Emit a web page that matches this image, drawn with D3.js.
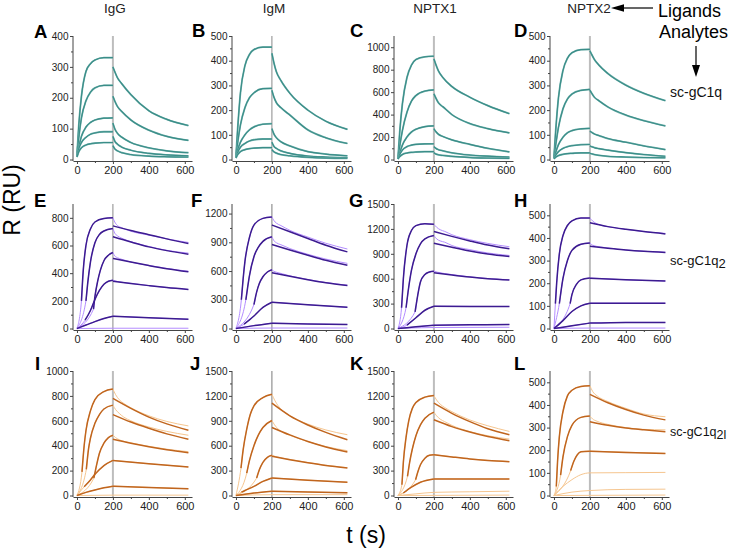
<!DOCTYPE html>
<html><head><meta charset="utf-8">
<script src="https://cdn.jsdelivr.net/npm/d3@7"></script>
<style>body{margin:0;background:#fff}text{font-family:"Liberation Sans",Arial,sans-serif}</style>
</head><body><svg id="c" width="729" height="550"></svg>
<script>
// ---------- DATA ----------
const ligands = ["IgG","IgM","NPTX1","NPTX2"];
const analytes = ["sc-gC1q","sc-gC1q2","sc-gC1q2l"];
const panelLetters = ["A","B","C","D","E","F","G","H","I","J","K","L"];
const xTicks = [0,200,400,600];
const yTicks400 = [0,100,200,300,400];
const yTicks500 = [0,100,200,300,400,500];
const yTicks800 = [0,200,400,600,800];
const yTicks1000 = [0,200,400,600,800,1000];
const yTicks1200 = [0,300,600,900,1200];
const yTicks1500 = [0,300,600,900,1200,1500];
const yMax = [400,500,1100,500, 900,1300,1500,550, 1000,1500,1500,550];

// Row 1 (sc-gC1q): sampled times
const tAssoc = [0,10,25,50,75,100,150,200];
const tDiss = [200,210,225,250,300,400,500,620];
const A_assoc = [[15,110,205,285,310,322,330,330],[12,70,135,190,218,232,240,240],[10,40,75,105,120,128,134,135],[10,35,55,72,82,86,90,90],[8,25,38,47,51,53,55,55]];
const A_diss = [[300,285,265,245,210,158,130,110],[205,190,172,155,128,95,75,62],[118,100,85,72,55,38,28,22],[75,60,50,40,30,20,15,12],[45,35,28,22,16,11,9,8]];
const B_assoc = [[15,130,270,380,425,445,455,455],[12,70,140,210,250,270,287,288],[10,40,70,100,120,132,143,145],[8,30,50,65,75,80,83,83],[6,20,32,40,44,46,48,48]];
const B_diss = [[430,395,355,320,268,200,155,122],[280,255,230,210,180,120,88,65],[125,105,88,72,55,32,22,15],[70,55,45,35,25,14,10,8],[40,32,26,20,15,9,6,5]];
const C_assoc = [[10,250,500,730,840,890,915,920],[10,120,260,420,520,570,610,620],[8,60,130,200,245,270,293,300],[5,45,85,115,128,135,139,140],[5,25,45,58,64,67,70,70]];
const C_diss = [[896,850,790,730,650,555,480,408],[585,550,505,470,400,320,275,237],[275,250,225,205,175,135,100,68],[115,100,88,78,60,40,30,22],[60,50,42,36,28,18,13,10]];
const D_assoc = [[10,120,250,360,410,432,445,446],[8,60,130,205,245,265,280,284],[5,30,60,90,108,117,124,126],[5,18,32,45,52,56,60,61],[3,10,16,21,24,25,27,27]];
const D_diss = [[440,425,405,382,348,301,268,238],[281,268,252,238,213,180,157,136],[115,110,103,97,85,70,55,40],[55,52,48,44,38,28,20,13],[25,23,20,17,13,10,8,7]];

// Rows 2 & 3: fitted curves (dark) and raw data (light), [t, R]
const E_fitA = [[[25,200],[35,420],[50,600],[75,720],[100,770],[150,795],[200,800]],[[50,200],[60,330],[75,480],[100,620],[125,680],[150,705],[200,723]],[[92,140],[100,230],[115,340],[130,420],[150,490],[175,530],[200,549]],[[45,60],[75,130],[100,210],[125,275],[150,320],[175,342],[200,349]],[[0,0],[50,25],[100,50],[150,72],[200,89]]];
const E_fitD = [[[200,742],[300,708],[400,678],[500,648],[620,615]],[[200,663],[300,625],[400,590],[500,563],[620,537]],[[200,506],[300,480],[400,455],[500,432],[620,410]],[[200,342],[300,325],[400,310],[500,296],[620,282]],[[200,89],[400,78],[620,67]]];
const E_rawD = [[[200,800],[210,770],[225,745],[250,728],[300,703],[400,675],[500,648],[620,622]],[[200,723],[210,690],[225,670],[250,652],[300,628],[400,593],[500,565],[620,545]],[[200,549],[210,525],[225,512],[250,500],[300,480],[400,456],[500,434],[620,414]],[[200,349],[225,340],[300,326],[400,310],[500,296],[620,282]],[[200,89],[400,78],[620,67]]];
const E_light = [[[0,0],[200,2],[620,2]]];

const F_fitA = [[[30,300],[40,520],[50,700],[75,950],[100,1080],[150,1150],[200,1165]],[[55,300],[65,430],[75,550],[100,750],[125,850],[150,910],[200,958]],[[100,250],[115,380],[130,470],[150,540],[175,590],[200,614]],[[45,45],[75,90],[100,130],[150,220],[200,274]],[[0,0],[100,30],[200,56]]];
const F_fitD = [[[200,1080],[300,1010],[400,940],[500,870],[620,800]],[[200,877],[300,820],[400,765],[500,712],[620,660]],[[200,582],[300,545],[400,510],[500,478],[620,449]],[[200,274],[400,248],[620,221]],[[200,56],[400,48],[620,42]]];
const F_rawD = [[[200,1165],[210,1130],[225,1100],[250,1075],[300,1025],[400,955],[500,890],[620,830]],[[200,958],[210,920],[225,895],[250,875],[300,835],[400,775],[500,725],[620,680]],[[200,614],[210,598],[225,588],[250,575],[300,550],[400,512],[500,480],[620,452]],[[200,274],[400,248],[620,221]],[[200,56],[400,48],[620,42]]];
const F_light = [[[0,0],[200,5],[620,5]]];

const G_fitA = [[[20,250],[30,600],[50,1000],[75,1180],[100,1240],[150,1262],[200,1255]],[[45,250],[60,500],[75,700],[100,900],[125,1020],[150,1080],[200,1120]],[[95,200],[110,400],[125,560],[150,650],[175,680],[200,690]],[[50,40],[100,130],[150,220],[200,268]],[[0,0],[100,20],[200,40]]];
const G_fitD = [[[200,1169],[300,1110],[400,1055],[500,1005],[620,960]],[[200,1028],[300,980],[400,935],[500,898],[620,867]],[[200,673],[300,645],[400,620],[500,600],[620,585]],[[200,268],[400,266],[620,265]],[[200,40],[400,45],[620,48]]];
const G_rawD = [[[200,1255],[215,1220],[235,1190],[260,1170],[300,1130],[400,1070],[500,1025],[620,985]],[[200,1120],[215,1080],[235,1055],[260,1040],[300,1000],[400,950],[500,910],[620,880]],[[200,690],[220,678],[300,650],[400,622],[500,602],[620,588]],[[200,268],[620,265]],[[200,40],[620,48]]];
const G_light = [[[0,0],[200,12],[620,15]]];

const H_fitA = [[[8,110],[15,200],[30,330],[50,410],[75,455],[100,475],[150,488],[200,488]],[[30,110],[50,220],[75,300],[100,345],[150,372],[200,378]],[[90,110],[100,150],[125,195],[150,215],[200,223]],[[0,0],[50,35],[100,75],[150,100],[200,112]],[[0,0],[100,12],[200,24]]];
const H_fitD = [[[200,467],[300,450],[400,438],[500,428],[620,418]],[[200,363],[300,355],[400,347],[500,341],[620,336]],[[200,222],[400,215],[620,210]],[[200,112],[620,112]],[[200,24],[400,27],[620,27]]];
const H_rawD = [[[200,488],[215,475],[240,462],[300,450],[400,438],[500,428],[620,420]],[[200,378],[215,368],[300,356],[400,347],[500,341],[620,337]],[[200,223],[400,215],[620,210]],[[200,112],[620,112]],[[200,24],[400,27],[620,27]]];
const H_light = [[[0,0],[200,2],[620,2]]];

const I_fitA = [[[28,190],[40,400],[50,520],[75,680],[100,770],[150,835],[200,855]],[[52,210],[65,380],[75,460],[100,580],[125,650],[150,695],[200,726]],[[94,140],[110,250],[125,340],[150,420],[175,465],[200,484]],[[40,70],[75,125],[100,170],[150,240],[200,282]],[[0,0],[50,25],[100,45],[150,62],[200,75]]];
const I_fitD = [[[200,780],[300,700],[400,630],[500,575],[620,524]],[[200,650],[300,590],[400,540],[500,495],[620,452]],[[200,452],[300,420],[400,392],[500,368],[620,344]],[[200,282],[400,255],[620,228]],[[200,75],[400,64],[620,54]]];
const I_rawD = [[[200,855],[215,810],[235,770],[260,740],[300,705],[400,640],[500,595],[620,559]],[[200,726],[215,690],[235,660],[260,630],[300,600],[400,550],[500,515],[620,484]],[[200,484],[215,465],[240,445],[300,423],[400,395],[500,372],[620,352]],[[200,282],[400,255],[620,230]],[[200,75],[620,54]]];
const I_light = [[[0,0],[200,3],[620,3]]];

const J_fitA = [[[28,330],[40,550],[60,800],[80,980],[100,1080],[150,1180],[200,1220]],[[60,270],[75,420],[100,600],[125,730],[150,820],[200,904]],[[115,210],[130,310],[150,400],[175,460],[200,484]],[[30,40],[50,60],[100,110],[150,170],[200,212]],[[0,0],[100,30],[200,52]]];
const J_fitD = [[[200,1112],[300,960],[400,850],[500,760],[620,672]],[[200,820],[300,730],[400,650],[500,585],[620,524]],[[200,472],[300,432],[400,395],[500,362],[620,332]],[[200,212],[400,185],[620,160]],[[200,52],[400,42],[620,32]]];
const J_rawD = [[[200,1220],[215,1150],[235,1080],[260,1020],[300,960],[400,860],[500,790],[620,732]],[[200,904],[215,850],[235,800],[260,760],[300,725],[400,650],[500,590],[620,540]],[[200,484],[220,470],[300,435],[400,397],[500,364],[620,335]],[[200,212],[400,185],[620,160]],[[200,52],[400,42],[620,32]]];
const J_light = [[[0,0],[200,10],[620,10]]];

const K_fitA = [[[22,130],[30,400],[45,700],[60,900],[80,1050],[100,1120],[150,1185],[200,1204]],[[53,230],[65,400],[80,560],[100,720],[125,850],[150,930],[200,1004]],[[98,190],[110,280],[125,370],[150,450],[175,485],[200,492]],[[30,30],[75,100],[125,160],[200,200]]];
const K_fitD = [[[200,1112],[300,990],[400,890],[500,805],[620,732]],[[200,912],[300,830],[400,765],[500,710],[620,660]],[[200,492],[300,465],[400,440],[500,422],[620,408]],[[200,200],[620,198]]];
const K_rawD = [[[200,1204],[215,1150],[235,1100],[260,1060],[300,1010],[400,910],[500,840],[620,772]],[[200,1004],[215,960],[235,920],[260,890],[300,845],[400,770],[500,720],[620,680]],[[200,492],[300,466],[400,441],[500,423],[620,410]],[[200,200],[620,198]]];
const K_light = [[[0,0],[100,20],[200,38],[400,45],[620,52]],[[0,0],[620,5]]];

const L_fitA = [[[13,40],[20,150],[30,260],[50,370],[75,440],[100,465],[150,482],[200,485]],[[37,90],[50,170],[75,260],[100,310],[150,345],[200,351]],[[93,110],[110,150],[130,180],[150,193],[200,196]]];
const L_fitD = [[[200,447],[300,410],[400,380],[500,355],[620,334]],[[200,326],[300,310],[400,298],[500,290],[620,282]],[[200,196],[400,190],[620,186]]];
const L_rawD = [[[200,485],[215,460],[240,440],[300,415],[400,385],[500,360],[620,348]],[[200,351],[215,338],[240,328],[300,314],[400,300],[500,292],[620,290]],[[200,196],[620,186]]];
const L_light = [[[0,0],[50,40],[100,70],[150,92],[200,100],[400,101],[620,102]],[[0,0],[100,15],[200,22],[400,27],[620,28]],[[0,0],[620,2]]];

// ---------- LAYOUT / STYLE ----------
const svg = d3.select("#c");
const colX = [73,232,394,550];
const rowY = [[36,161],[204,330],[371,497]];
const panelW = 119;
const yTickSets = [yTicks400,yTicks500,yTicks1000,yTicks500, yTicks800,yTicks1200,yTicks1500,yTicks500, yTicks1000,yTicks1500,yTicks1500,yTicks500];
const vStyle = [["#bdbdbd",2],["#8a8a8a",1],["#bdbdbd",2],["#bdbdbd",2],["#8a8a8a",1],["#7a7a7a",1],["#bdbdbd",2],["#bdbdbd",2],["#bdbdbd",2],["#7a7a7a",1],["#bdbdbd",2],["#bdbdbd",2]];
const letterPos = [[34,38],[192,37],[350,37],[514,37],[34,207],[191,207],[349,207],[514,207],[35,370],[190,370],[350,370],[514,370]];
const teal = "#3a8d88";
const rowDark = [null,"#3c1b90","#c0651e"];
const rowLight = [null,"#b48dff","#f6c690"];

const row1 = [[A_assoc,A_diss],[B_assoc,B_diss],[C_assoc,C_diss],[D_assoc,D_diss]];
const rowsFit = [
  [[E_fitA,E_fitD,E_rawD,E_light],[F_fitA,F_fitD,F_rawD,F_light],[G_fitA,G_fitD,G_rawD,G_light],[H_fitA,H_fitD,H_rawD,H_light]],
  [[I_fitA,I_fitD,I_rawD,I_light],[J_fitA,J_fitD,J_rawD,J_light],[K_fitA,K_fitD,K_rawD,K_light],[L_fitA,L_fitD,L_rawD,L_light]]
];

for (let r=0;r<3;r++){
  for (let c=0;c<4;c++){
    const k = r*4+c;
    const x = d3.scaleLinear().domain([-22,640]).range([colX[c], colX[c]+panelW]);
    const max = yMax[k];
    const y = d3.scaleLinear().domain([-0.012*max, max]).range([rowY[r][1], rowY[r][0]]);
    const g = svg.append("g");
    g.append("line").attr("x1",x(200)).attr("x2",x(200)).attr("y1",y(max)).attr("y2",rowY[r][1])
      .attr("stroke",vStyle[k][0]).attr("stroke-width",vStyle[k][1]);
    const line = d3.line().x(d=>x(d[0])).y(d=>y(d[1])).curve(d3.curveMonotoneX);
    const draw = (pts,col,w)=>g.append("path").attr("d",line(pts)).attr("fill","none").attr("stroke",col).attr("stroke-width",w).attr("stroke-linejoin","round");
    if (r===0){
      const [as,ds] = row1[c];
      as.forEach(v=>{draw(d3.zip(tAssoc,v),"#6fb0ab",1.8);draw(d3.zip(tAssoc,v),teal,1.1);});
      ds.forEach(v=>{draw(d3.zip(tDiss,v),"#6fb0ab",1.8);draw(d3.zip(tDiss,v),teal,1.1);});
    } else {
      const [fA,fD,rD,lt] = rowsFit[r-1][c];
      const dk = rowDark[r], lc = rowLight[r];
      lt.forEach(p=>draw(p,lc,1));
      fA.forEach(p=>draw([[0,0]].concat(p[0][0]>0?p:p.slice(1)),lc,1));
      rD.forEach(p=>draw(p,lc,1));
      fA.forEach(p=>draw(p,dk,1.5));
      fD.forEach(p=>draw(p,dk,1.5));
    }
    const yt = yTickSets[k];
    const ya = g.append("g").attr("transform",`translate(${colX[c]},0)`)
      .call(d3.axisLeft(y).tickValues(yt).tickFormat(d3.format("d")).tickSize(3).tickSizeOuter(0).tickPadding(1.5));
    const minor = d3.pairs(yt).map(p=>(p[0]+p[1])/2);
    g.append("g").attr("transform",`translate(${colX[c]},0)`)
      .call(d3.axisLeft(y).tickValues(minor).tickSize(2).tickFormat("")).select(".domain").remove();
    ya.select(".domain").attr("d",`M0,${rowY[r][1]}V${y(max)}`);
    ya.selectAll("text").attr("font-size",10).attr("fill","#222");
    const xa = g.append("g").attr("transform",`translate(0,${rowY[r][1]})`)
      .call(d3.axisBottom(x).tickValues(xTicks).tickSize(3).tickSizeOuter(0).tickPadding(2));
    g.append("g").attr("transform",`translate(0,${rowY[r][1]})`)
      .call(d3.axisBottom(x).tickValues([100,300,500]).tickSize(2).tickFormat("")).select(".domain").remove();
    xa.selectAll("text").attr("font-size",11).attr("fill","#222");
    g.selectAll(".domain, .tick line").attr("stroke","#444");
    svg.append("text").attr("x",letterPos[k][0]).attr("y",letterPos[k][1])
      .attr("font-size",18.5).attr("font-weight","bold").text(panelLetters[k]);
  }
}

const titleX = [115,274,435,589];
ligands.forEach((t,i)=>svg.append("text").attr("x",titleX[i]).attr("y",13).attr("text-anchor","middle").attr("font-size",13.5).attr("fill","#222").text(t));
svg.append("text").attr("x",658).attr("y",16.5).attr("font-size",18).text("Ligands");
svg.append("text").attr("x",659).attr("y",37.5).attr("font-size",18).text("Analytes");
svg.append("line").attr("x1",621).attr("x2",653).attr("y1",8).attr("y2",8).attr("stroke","#000").attr("stroke-width",1.2);
svg.append("path").attr("d","M611,8L624,4.3L624,11.7Z").attr("fill","#000");
svg.append("line").attr("x1",696).attr("x2",696).attr("y1",46).attr("y2",68).attr("stroke","#000").attr("stroke-width",1.2);
svg.append("path").attr("d","M696,77L692,65L700,65Z").attr("fill","#000");
const aY = [97,265,436];
const aSize = [14,13,12.5];
analytes.forEach((a,i)=>{
  const t = svg.append("text").attr("x",670).attr("y",aY[i]).attr("font-size",aSize[i]).attr("fill","#111");
  t.append("tspan").text("sc-gC1q");
  if (i>0) t.append("tspan").attr("dy",3).attr("font-size",aSize[i]).text(a.slice(7));
});
svg.append("text").attr("transform","translate(20,200) rotate(-90)").attr("text-anchor","middle").attr("font-size",23).text("R (RU)");
svg.append("text").attr("x",366).attr("y",543).attr("text-anchor","middle").attr("font-size",23).text("t (s)");
</script></body></html>
